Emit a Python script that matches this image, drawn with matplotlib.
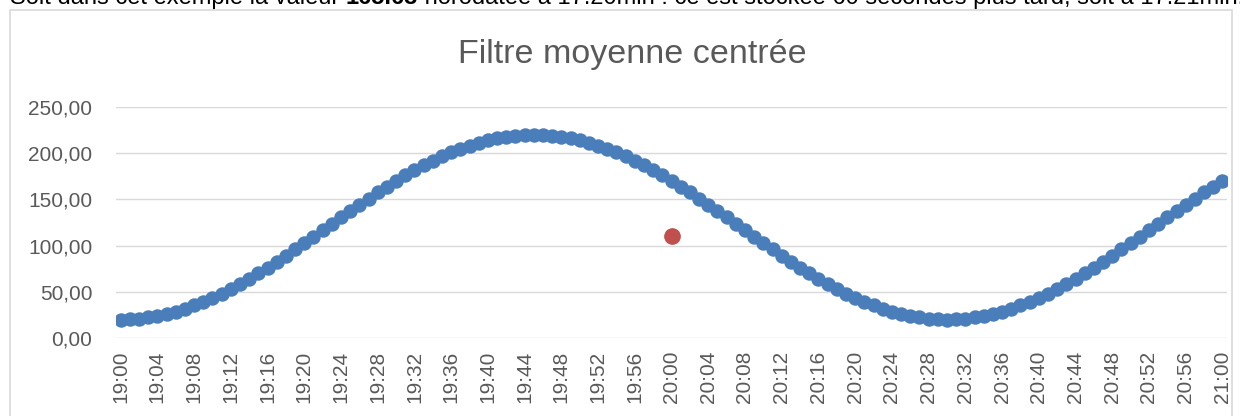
import matplotlib
matplotlib.use("Agg")
import matplotlib.pyplot as plt
from matplotlib.patches import Rectangle

plt.rcParams['font.family'] = ['Liberation Sans', 'DejaVu Sans']

# ---- data ----
times = [f"{19 + (m // 60)}:{m % 60:02d}" for m in range(0, 121)]
filtered = [
    20.0, 20.2, 21.0, 22.2, 23.9, 26.0, 28.6, 31.7, 35.2, 39.1,
    43.4, 48.1, 53.1, 58.4, 64.1, 70.0, 76.2, 82.5, 89.1, 95.8,
    102.6, 109.5, 116.5, 123.5, 130.5, 137.4, 144.2, 150.9, 157.5, 163.8,
    170.0, 175.9, 181.6, 186.9, 191.9, 196.6, 200.9, 204.8, 208.3, 211.4,
    214.0, 216.1, 217.8, 219.0, 219.8, 220.0, 219.8, 219.0, 217.8, 216.1,
    214.0, 211.4, 208.3, 204.8, 200.9, 196.6, 191.9, 186.9, 181.6, 175.9,
    170.0, 163.8, 157.5, 150.9, 144.2, 137.4, 130.5, 123.5, 116.5, 109.5,
    102.6, 95.8, 89.1, 82.5, 76.2, 70.0, 64.1, 58.4, 53.1, 48.1,
    43.4, 39.1, 35.2, 31.7, 28.6, 26.0, 23.9, 22.2, 21.0, 20.2,
    20.0, 20.2, 21.0, 22.2, 23.9, 26.0, 28.6, 31.7, 35.2, 39.1,
    43.4, 48.1, 53.1, 58.4, 64.1, 70.0, 76.2, 82.5, 89.1, 95.8,
    102.6, 109.5, 116.5, 123.5, 130.5, 137.4, 144.2, 150.9, 157.5, 163.8,
    170.0,
]
single_time = "20:00"
single_value = 110.0
yticks = [0, 50, 100, 150, 200, 250]
ytick_labels = ["0,00", "50,00", "100,00", "150,00", "200,00", "250,00"]
xtick_labels = times[::4]

W, H = 1240, 416
fig = plt.figure(figsize=(W / 100, H / 100), dpi=100)

# chart border (bottom cut off)
fig.patches.append(Rectangle((10 / W, -0.1), (1232 - 10) / W, 1.1 - 9.5 / H,
                             transform=fig.transFigure, fill=False,
                             edgecolor='#D9D9D9', linewidth=1.2, zorder=0))

ax = fig.add_axes([116 / W, (H - 338) / H, (1227 - 116) / W, (338 - 107) / H])
x = list(range(len(times)))
ax.plot(x, filtered, linestyle='none', marker='o', markersize=9.4,
        color='#4A7EBB', zorder=3)
xi = times.index(single_time)
ax.plot([xi], [single_value], linestyle='none', marker='o', markersize=11,
        color='#C0504D', zorder=4)

ax.set_xlim(-0.5, len(times) - 0.5)
ax.set_ylim(0, 250)
ax.set_yticks(yticks)
ax.set_yticklabels(ytick_labels)
ax.set_xticks(x[::4])
ax.set_xticklabels(xtick_labels, rotation=90)
for s in ax.spines.values():
    s.set_visible(False)
ax.grid(axis='y', color='#D9D9D9', linewidth=1.0, zorder=0)
ax.set_axisbelow(True)
ax.tick_params(axis='both', length=0, labelsize=15, colors='#595959')
ax.tick_params(axis='y', pad=17)
ax.tick_params(axis='x', pad=9)

fig.text(632 / W, 1 - 55 / H, "Filtre moyenne centrée", ha='center', va='center',
         fontsize=24.5, color='#595959')

# clipped document text at the top
renderer = fig.canvas.get_renderer()
parts = [("Soit dans cet exemple la valeur ", 'normal'),
         ("165.63", 'bold'),
         (" horodatée à 17.20min : ce est stockée 60 secondes plus tard, soit à 17.21min.", 'normal')]
xpos = 10 / W
for txt, wgt in parts:
    t = fig.text(xpos, 1 - 4 / H, txt, ha='left', va='baseline', fontsize=17,
                 fontweight=wgt, color='black')
    bb = t.get_window_extent(renderer=renderer)
    xpos = bb.x1 / W

fig.savefig("out.png", dpi=100)
